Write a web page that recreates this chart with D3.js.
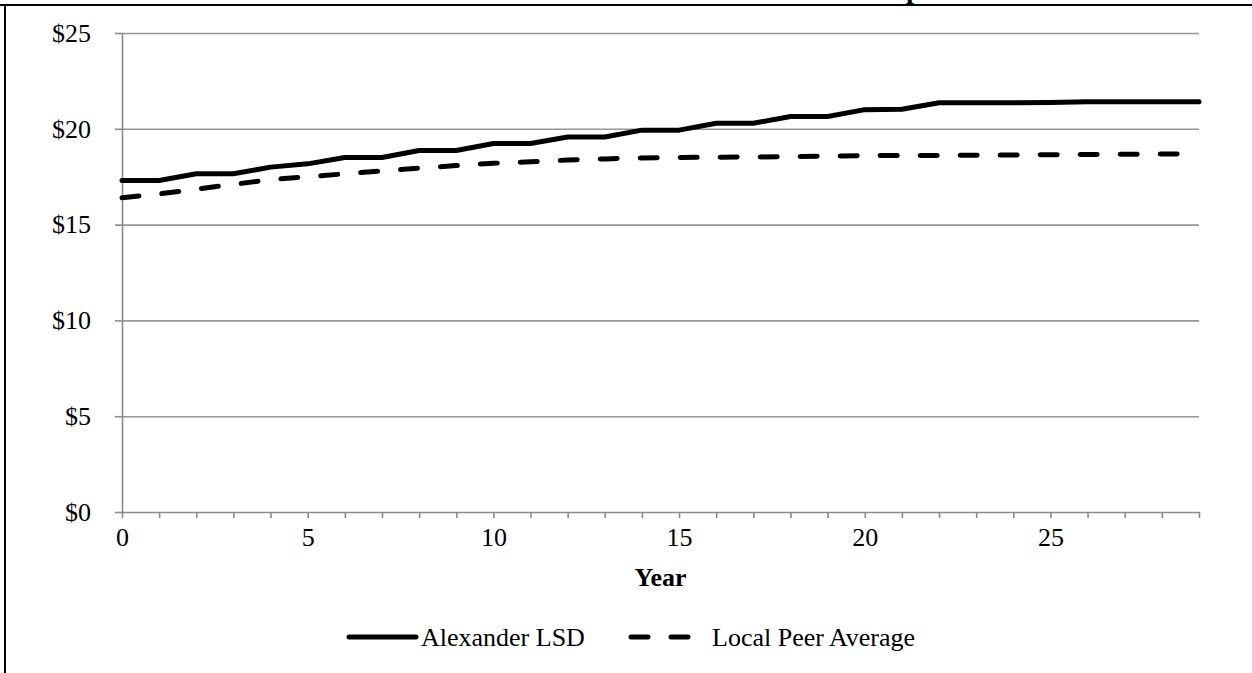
<!DOCTYPE html>
<html>
<head>
<meta charset="utf-8">
<script src="https://cdn.jsdelivr.net/npm/d3@7"></script>
<style>
  html, body { margin: 0; padding: 0; background: #fff; }
  svg { display: block; }
  text { font-family: "Liberation Serif", "Times New Roman", serif; fill: #000; }
</style>
</head>
<body>
<svg id="chart" width="1252" height="673"></svg>
<script>
// Years on the horizontal axis
const years = d3.range(0, 30);

// Hourly rate by year of service
const alexanderLSD = [
  17.30, 17.30, 17.65, 17.65, 18.00, 18.17, 18.50, 18.50, 18.87, 18.87,
  19.23, 19.23, 19.57, 19.57, 19.93, 19.93, 20.29, 20.29, 20.64, 20.64,
  21.00, 21.02, 21.36, 21.36, 21.36, 21.37, 21.41, 21.41, 21.41, 21.41
];
const localPeerAverage = [
  16.40, 16.60, 16.85, 17.10, 17.35, 17.50, 17.65, 17.80, 17.95, 18.08,
  18.20, 18.28, 18.37, 18.43, 18.48, 18.50, 18.52, 18.53, 18.55, 18.57,
  18.60, 18.60, 18.61, 18.62, 18.63, 18.65, 18.66, 18.67, 18.68, 18.70
];

const yTicks = [0, 5, 10, 15, 20, 25];
const xLabelStep = 5;
const seriesNames = ["Alexander LSD", "Local Peer Average"];
const titleText = "Rate Comparison";
const xTitle = "Year";

const svg = d3.select("#chart");

const x = d3.scaleLinear().domain([0, 29]).range([122, 1199]);
const y = d3.scaleLinear().domain([0, 25]).range([512, 33]);

const gridColor = "#969696";
const axisColor = "#8a8a8a";

// Outer frame (top and left edges visible)
svg.append("line").attr("x1", 0).attr("x2", 1252).attr("y1", 5).attr("y2", 5)
  .attr("stroke", "#000").attr("stroke-width", 2);
svg.append("line").attr("x1", 5).attr("x2", 5).attr("y1", 4).attr("y2", 673)
  .attr("stroke", "#000").attr("stroke-width", 2);

// Chart title, sitting above the frame
const title = svg.append("text")
  .attr("y", -2)
  .attr("font-size", 28)
  .attr("font-weight", "bold")
  .text(titleText);
const pIndex = titleText.indexOf("p");
const offset = title.node().getSubStringLength(0, pIndex);
title.attr("x", 906 - offset);

// Horizontal gridlines
svg.append("g")
  .attr("transform", `translate(${x.range()[0]},0)`)
  .call(d3.axisLeft(y).tickValues(yTicks.filter(v => v > 0))
    .tickSize(-(x.range()[1] - x.range()[0])).tickFormat(""))
  .call(g => g.select(".domain").remove())
  .call(g => g.selectAll(".tick line").attr("stroke", gridColor).attr("stroke-width", 1.6));

// Y axis
svg.append("g")
  .attr("transform", `translate(${x.range()[0]},0)`)
  .call(d3.axisLeft(y).tickValues(yTicks).tickSize(7).tickSizeOuter(0)
    .tickPadding(24).tickFormat(d => "$" + d))
  .call(g => g.select(".domain").attr("stroke", axisColor).attr("stroke-width", 1.6))
  .call(g => g.selectAll(".tick line").attr("stroke", axisColor).attr("stroke-width", 1.6))
  .call(g => g.selectAll(".tick text")
    .attr("font-size", 26)
    .attr("font-family", "Liberation Serif, Times New Roman, serif")
    .attr("fill", "#000"));

// X axis
svg.append("g")
  .attr("transform", `translate(0,${y(0)})`)
  .call(d3.axisBottom(x).tickValues(years).tickSize(6).tickSizeOuter(0)
    .tickFormat(d => d % xLabelStep === 0 ? String(d) : ""))
  .call(g => g.select(".domain").attr("stroke", axisColor).attr("stroke-width", 1.6))
  .call(g => g.selectAll(".tick line").attr("stroke", axisColor).attr("stroke-width", 1.6))
  .call(g => g.selectAll(".tick text")
    .attr("y", 34).attr("dy", 0)
    .attr("font-size", 26)
    .attr("font-family", "Liberation Serif, Times New Roman, serif")
    .attr("fill", "#000"));

// X axis title
svg.append("text")
  .attr("x", (x.range()[0] + x.range()[1]) / 2)
  .attr("y", 586)
  .attr("text-anchor", "middle")
  .attr("font-size", 26)
  .attr("font-weight", "bold")
  .text(xTitle);

// Series lines
const line = d3.line().x((d, i) => x(years[i])).y(d => y(d));

svg.append("path")
  .datum(alexanderLSD)
  .attr("fill", "none")
  .attr("stroke", "#000")
  .attr("stroke-width", 5)
  .attr("stroke-linejoin", "round")
  .attr("stroke-linecap", "round")
  .attr("d", line);

svg.append("path")
  .datum(localPeerAverage)
  .attr("fill", "none")
  .attr("stroke", "#000")
  .attr("stroke-width", 5)
  .attr("stroke-linejoin", "round")
  .attr("stroke-linecap", "round")
  .attr("stroke-dasharray", "17,23")
  .attr("d", line);

// Legend
const legendY = 637;
const legend = svg.append("g");
legend.append("line")
  .attr("x1", 349).attr("x2", 416).attr("y1", legendY).attr("y2", legendY)
  .attr("stroke", "#000").attr("stroke-width", 5).attr("stroke-linecap", "round");
legend.append("text")
  .attr("x", 421).attr("y", legendY + 9)
  .attr("font-size", 26)
  .text(seriesNames[0]);
legend.append("line")
  .attr("x1", 631).attr("x2", 697).attr("y1", legendY).attr("y2", legendY)
  .attr("stroke", "#000").attr("stroke-width", 5).attr("stroke-linecap", "round")
  .attr("stroke-dasharray", "17,23");
legend.append("text")
  .attr("x", 712).attr("y", legendY + 9)
  .attr("font-size", 26)
  .text(seriesNames[1]);
</script>
</body>
</html>
